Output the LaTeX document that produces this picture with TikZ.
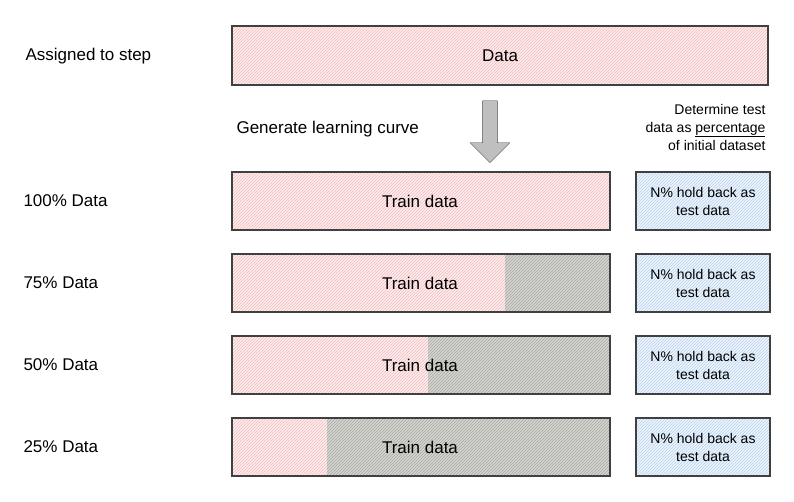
\documentclass[tikz,border=0pt]{standalone}
\usepackage{fontspec}
\setmainfont{Liberation Sans}
\usetikzlibrary{patterns,shapes.arrows}
\definecolor{pinkfill}{RGB}{253,236,236}
\definecolor{pinkline}{RGB}{242,190,190}
\definecolor{bluefill}{RGB}{238,245,252}
\definecolor{blueline}{RGB}{185,210,238}
\definecolor{grayfill}{RGB}{214,214,208}
\tikzset{
  databox/.style={fill=pinkfill, postaction={pattern=north east lines, pattern color=pinkline}},
  testbox/.style={fill=bluefill, postaction={pattern=north east lines, pattern color=blueline}},
  heldbox/.style={fill=grayfill, postaction={pattern=north east lines, pattern color=black!35}},
  edge/.style={draw=black!75, line width=1.1pt},
  lbl/.style={font=\fontsize{17}{20}\selectfont},
  small/.style={font=\fontsize{14}{18}\selectfont}
}
\begin{document}
\begin{tikzpicture}[x=1pt, y=-1pt]
	\useasboundingbox (0,0) rectangle (794,502);

	% Top row
	\node[lbl, anchor=west] (step) at (22, 56) {Assigned to step};
	\fill[databox] (232, 26) rectangle (768, 85);
	\draw[edge] (232, 26) rectangle (768, 85);
	\node[lbl] (data) at (500, 56) {Data};

	% Arrow
	\node[single arrow, draw=black!70, fill=black!25, shape border rotate=270, minimum height=62pt, minimum width=40pt, single arrow head extend=6pt] (arrow) at (490, 128) {};
	\node[lbl, anchor=west] (curve) at (233, 129) {Generate learning curve};
	\node[small, align=right, anchor=east] (determine) at (769, 127) {Determine test\\data as \underline{percentage}\\of initial dataset};

	% Rows
	\foreach \y/\p/\cut in {172/100/610, 254/75/505, 336/50/428, 418/25/327} {
		\fill[databox] (232, \y) rectangle (610, \y+58);
		\ifnum\cut<610 \fill[heldbox] (\cut, \y) rectangle (610, \y+58); \fi
		\draw[edge] (232, \y) rectangle (610, \y+58);
		\node[lbl] at (420, \y+29) {Train data};
		\node[lbl, anchor=west] at (20, \y+29) {\p\% Data};
		\fill[testbox] (636, \y) rectangle (770, \y+58);
		\draw[edge] (636, \y) rectangle (770, \y+58);
		\node[small, align=center] at (703, \y+29) {N\% hold back as\\test data};
	}
\end{tikzpicture}
\end{document}
